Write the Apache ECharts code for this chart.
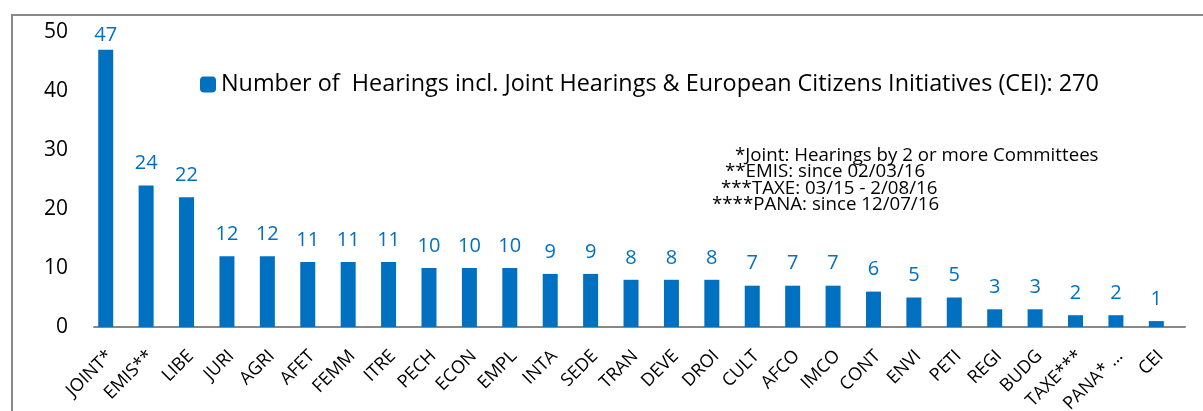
<!DOCTYPE html>
<html>
<head>
<meta charset="utf-8">
<script src="https://cdn.jsdelivr.net/npm/echarts@6/dist/echarts.min.js"></script>
<style>
  html, body { margin: 0; padding: 0; background: #fff; }
  #chart { width: 1203px; height: 411px; }
</style>
</head>
<body>
<div id="chart"></div>
<script>
var committees = ['JOINT*', 'EMIS**', 'LIBE', 'JURI', 'AGRI', 'AFET', 'FEMM', 'ITRE', 'PECH', 'ECON',
    'EMPL', 'INTA', 'SEDE', 'TRAN', 'DEVE', 'DROI', 'CULT', 'AFCO', 'IMCO', 'CONT',
    'ENVI', 'PETI', 'REGI', 'BUDG', 'TAXE***', 'PANA* \u2026', 'CEI'];
var hearings = [47, 24, 22, 12, 12, 11, 11, 11, 10, 10, 10, 9, 9, 8, 8, 8, 7, 7, 7, 6, 5, 5, 3, 3, 2, 2, 1];
var yTicks = [0, 10, 20, 30, 40, 50];
var seriesName = 'Number of  Hearings incl. Joint Hearings & European Citizens Initiatives (CEI): 270';
var notes = [
    '*Joint: Hearings by 2 or more Committees',
    '**EMIS: since 02/03/16',
    '***TAXE: 03/15 - 2/08/16',
    '****PANA: since 12/07/16'
];

var font = 'Open Sans';
var blue = '#0070C0';
var chart = echarts.init(document.getElementById('chart'));

// note lines, each a bit more indented to the left, as in the original
var noteX = [735, 725, 721, 712];
var noteGraphics = notes.map(function (t, i) {
    return {
        type: 'text',
        left: noteX[i],
        top: 146 + i * 16.5,
        style: { text: t, font: '18.7px "' + font + '"', fill: '#000', lineHeight: 17 }
    };
});

// the tallest bar's label sits tighter, it is pushed down by the plot top
var barData = hearings.map(function (v) {
    return v === Math.max.apply(null, hearings) ? { value: v, label: { distance: 4 } } : v;
});

var option = {
    animation: false,
    backgroundColor: '#fff',
    textStyle: { fontFamily: font },
    grid: { left: 94, right: 18, top: 32, bottom: 84, outerBoundsMode: 'none' },
    legend: {
        data: [seriesName],
        left: 200,
        top: 73,
        padding: 0,
        itemWidth: 16,
        itemHeight: 16,
        textStyle: { fontSize: 23.4, color: '#000', fontFamily: font }
    },
    xAxis: {
        type: 'category',
        data: committees,
        axisLine: { lineStyle: { color: '#888', width: 2 } },
        axisTick: { show: false },
        axisLabel: {
            interval: 0,
            rotate: 45,
            margin: 22,
            color: '#000',
            fontSize: 18,
            fontFamily: font,
            padding: [0, 6, 0, 0]
        }
    },
    yAxis: {
        type: 'value',
        min: yTicks[0],
        max: yTicks[yTicks.length - 1],
        interval: 10,
        axisLine: { show: false },
        axisTick: { show: false },
        splitLine: { show: false },
        axisLabel: { color: '#000', fontSize: 21, fontFamily: font, margin: 26 }
    },
    series: [
        {
            name: seriesName,
            type: 'bar',
            data: barData,
            barWidth: 15,
            barGap: '13%',
            itemStyle: { color: blue },
            label: {
                show: true,
                position: 'top',
                distance: 12,
                color: blue,
                fontSize: 20,
                fontFamily: font
            }
        },
        {
            name: 'spacer',
            type: 'bar',
            barWidth: 15,
            data: committees.map(function () { return '-'; })
        }
    ],
    graphic: [
        {
            type: 'rect',
            shape: { x: 12, y: 15, width: 1200, height: 410 },
            style: { fill: 'none', stroke: '#888', lineWidth: 2 },
            silent: true
        }
    ].concat(noteGraphics)
};
chart.setOption(option);
</script>
</body>
</html>
